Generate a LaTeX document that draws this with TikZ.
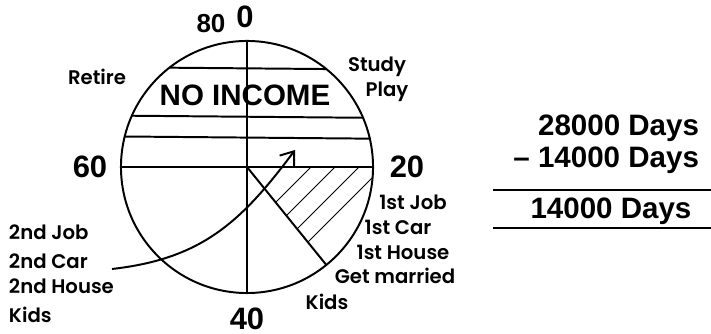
\documentclass[tikz,border=0pt]{standalone}
\usepackage{fontspec}
\setmainfont{Liberation Sans}
\newfontfamily\poppins{Poppins}[BoldFont={Poppins SemiBold}]
\usetikzlibrary{arrows.meta}

\begin{document}
\begin{tikzpicture}[x=0.025cm,y=0.025cm,line width=1.4pt,
  lbl/.style={font=\poppins\bfseries\fontsize{14}{16}\selectfont,inner sep=0pt,text height=9.8pt,text depth=0pt},
  age/.style={font=\bfseries\fontsize{22}{24}\selectfont,inner sep=0pt,text height=15.8pt,text depth=0pt},
  days/.style={font=\bfseries\fontsize{21}{23}\selectfont,inner sep=0pt,text height=15pt,text depth=0pt}]
  \useasboundingbox (0,0) rectangle (711,334);
  \node[circle,draw,minimum size=6.3cm,inner sep=0pt,outer sep=0pt] (dial) at (247,167) {};
  % hatched part
  \begin{scope}
    \clip (dial.center) -- (dial.east) arc[start angle=0,end angle=-51,radius=3.15cm] -- cycle;
    \foreach \k in {144,168,192,216}
      \draw[line width=0.7pt] ({\k+20},20) -- ({\k+220},220);
  \end{scope}
  \draw (dial.north) -- (dial.south);
  \draw (dial.west) -- (dial.east);
  \draw (dial.128.2) -- (dial.51.8);
  \draw (dial.156.1) -- (dial.23.9);
  \draw (dial.166.7) -- (dial.13.3);
  \draw (dial.center) -- (dial.-51);
  % ages
  \node[age] (zero) at (245,318) {0};
  \node[age,font=\bfseries\fontsize{18.5}{20}\selectfont,text height=13.3pt] (eighty) at (211,311) {80};
  \node[age] (sixty) at (90,168) {60};
  \node[age] (twenty) at (407,168) {20};
  \node[age] (forty) at (247,16) {40};
  \node[age,font=\bfseries\fontsize{21}{23}\selectfont,text height=15pt] (noinc) at (245,239) {NO INCOME};
  % stages
  \node[lbl] (retire) at (97,256) {Retire};
  \node[lbl] (study) at (377,269) {Study};
  \node[lbl] (play) at (387,244) {Play};
  \node[lbl] (job1) at (413,131) {1st Job};
  \node[lbl] (car1) at (398,106) {1st Car};
  \node[lbl] (house1) at (403,81) {1st House};
  \node[lbl] (married) at (395,57) {Get married};
  \node[lbl] (kids1) at (327,31) {Kids};
  \node[lbl,anchor=west] (job2) at (8,101) {2nd Job};
  \node[lbl,anchor=west] (car2) at (8,72) {2nd Car};
  \node[lbl,anchor=west] (house2) at (8,47) {2nd House};
  \node[lbl,anchor=west] (kids2) at (8,18) {Kids};
  % arrow
  \coordinate (from) at (112,65);
  \coordinate (to) at (295,184);
  \draw[-{Straight Barb[length=3mm,width=4.5mm]}] (from) .. controls (200,75) and (240,110) .. (to);
  % subtraction
  \node[days,anchor=east] (total) at (700,209) {28000 Days};
  \node[days,anchor=east] (spent) at (700,177) {– 14000 Days};
  \node[days] (left) at (611,126) {14000 Days};
  \draw (493,144) -- (711,144);
  \draw (493,106) -- (711,106);
\end{tikzpicture}
\end{document}
